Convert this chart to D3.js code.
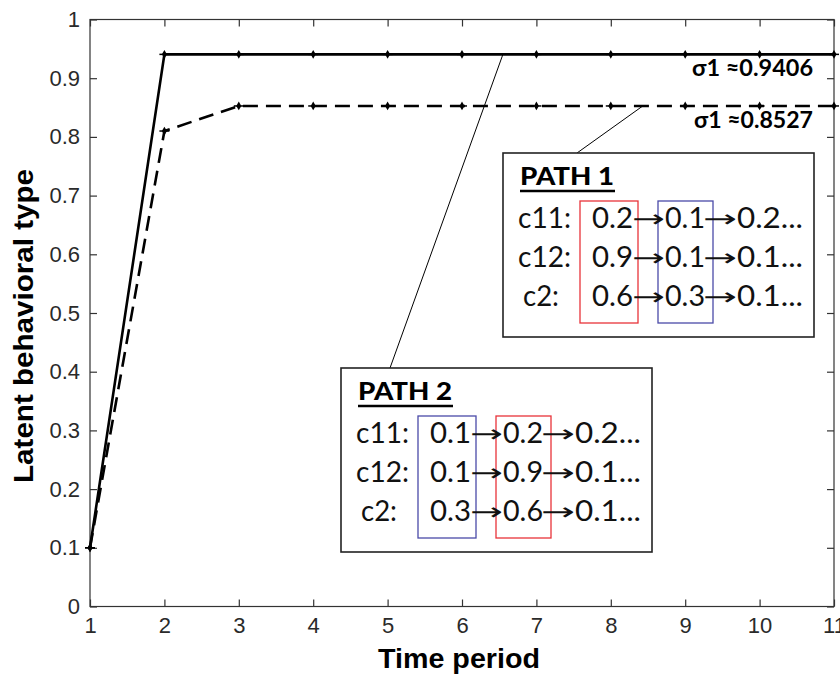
<!DOCTYPE html>
<html><head><meta charset="utf-8">
<script src="https://cdn.jsdelivr.net/npm/d3@7/dist/d3.min.js"></script>
<style>body{margin:0;background:#fff}svg{display:block}</style>
</head><body>
<svg id="c" width="840" height="674"></svg>
<script>
// ---- data ----
const periods = [1,2,3,4,5,6,7,8,9,10,11];
const path2Values = [0.1,0.9406,0.9406,0.9406,0.9406,0.9406,0.9406,0.9406,0.9406,0.9406,0.9406];
const path1Values = [0.1,0.81,0.8527,0.8527,0.8527,0.8527,0.8527,0.8527,0.8527,0.8527,0.8527];
const xTicks = [1,2,3,4,5,6,7,8,9,10,11];
const yTicks = [0,0.1,0.2,0.3,0.4,0.5,0.6,0.7,0.8,0.9,1];
const yTickLabels = ["0","0.1","0.2","0.3","0.4","0.5","0.6","0.7","0.8","0.9","1"];
const sigmaLabels = ["σ1 ≈0.9406","σ1 ≈0.8527"];
const path1Rows = [["c11:","0.2","0.1","0.2..."],["c12:","0.9","0.1","0.1..."],["c2:","0.6","0.3","0.1..."]];
const path2Rows = [["c11:","0.1","0.2","0.2..."],["c12:","0.1","0.9","0.1..."],["c2:","0.3","0.6","0.1..."]];

const svg = d3.select("#c");
const x = d3.scaleLinear().domain([1,11]).range([90,834]);
const y = d3.scaleLinear().domain([0,1]).range([606.5,19.5]);
const tickFont = "Liberation Sans, Arial, sans-serif";

// frame
svg.append("rect").attr("x",90).attr("y",19.5).attr("width",744).attr("height",587)
  .attr("fill","none").attr("stroke","#333").attr("stroke-width",1.2);

function styleAxis(g){
  g.select(".domain").remove();
  g.selectAll("line").attr("stroke","#333").attr("stroke-width",1.2);
  g.selectAll("text").attr("font-family",tickFont).attr("font-size",22).attr("fill","#2a2a2a");
}
svg.append("g").attr("transform","translate(0,606.5)")
  .call(d3.axisBottom(x).tickValues(xTicks).tickFormat(d3.format("d")).tickSizeInner(-7).tickSizeOuter(0).tickPadding(11))
  .call(styleAxis);
svg.append("g").attr("transform","translate(0,19.5)")
  .call(d3.axisTop(x).tickValues(xTicks).tickFormat("").tickSizeInner(-7).tickSizeOuter(0))
  .call(styleAxis);
svg.append("g").attr("transform","translate(90,0)")
  .call(d3.axisLeft(y).tickValues(yTicks).tickFormat((d,i)=>yTickLabels[i]).tickSizeInner(-7).tickSizeOuter(0).tickPadding(10))
  .call(styleAxis);
svg.append("g").attr("transform","translate(834,0)")
  .call(d3.axisRight(y).tickValues(yTicks).tickFormat("").tickSizeInner(-7).tickSizeOuter(0))
  .call(styleAxis);

// axis titles
svg.append("text").attr("x",459).attr("y",668).attr("text-anchor","middle")
  .attr("font-family",tickFont).attr("font-weight","bold").attr("font-size",27)
  .attr("textLength",162).attr("lengthAdjust","spacingAndGlyphs").text("Time period");
svg.append("text").attr("transform","translate(33,326) rotate(-90)").attr("text-anchor","middle")
  .attr("font-family",tickFont).attr("font-weight","bold").attr("font-size",27)
  .attr("textLength",314).attr("lengthAdjust","spacingAndGlyphs").text("Latent behavioral type");

// lines
const line = d3.line().x((d,i)=>x(periods[i])).y(d=>y(d));
svg.append("path").datum(path2Values).attr("d",line).attr("fill","none")
  .attr("stroke","#000").attr("stroke-width",2.6);
svg.append("path").datum(path1Values).attr("d",line).attr("fill","none")
  .attr("stroke","#000").attr("stroke-width",2.6).attr("stroke-dasharray","15,8");
const sym = d3.symbol().type(d3.symbolDiamond).size(22);
[path2Values,path1Values].forEach(vals=>{
  svg.append("g").selectAll("path").data(vals).join("path")
    .attr("transform",(d,i)=>`translate(${x(periods[i])},${y(d)})`).attr("d",sym).attr("fill","#000");
  svg.append("g").selectAll("line").data(vals).join("line")
    .attr("x1",(d,i)=>x(periods[i])-5).attr("x2",(d,i)=>x(periods[i])+5)
    .attr("y1",d=>y(d)).attr("y2",d=>y(d)).attr("stroke","#000").attr("stroke-width",1.5);
});

// sigma labels
const calib = "Lato, 'Open Sans', sans-serif";
svg.append("text").attr("x",692).attr("y",76).attr("font-family",calib).attr("font-weight","bold")
  .attr("font-size",22).attr("textLength",121).attr("lengthAdjust","spacingAndGlyphs").text(sigmaLabels[0]);
svg.append("text").attr("x",694).attr("y",128).attr("font-family",calib).attr("font-weight","bold")
  .attr("font-size",22).attr("textLength",119).attr("lengthAdjust","spacingAndGlyphs").text(sigmaLabels[1]);

// connector lines
svg.append("line").attr("x1",x(6.55)).attr("y1",y(path2Values[6])).attr("x2",390).attr("y2",368)
  .attr("stroke","#000").attr("stroke-width",1);
svg.append("line").attr("x1",x(8.43)).attr("y1",y(path1Values[8])).attr("x2",577).attr("y2",153)
  .attr("stroke","#000").attr("stroke-width",1);

// annotation boxes
function pathBox(bx,by,title,rows,firstColor,secondColor){
  const g = svg.append("g").attr("transform",`translate(${bx},${by})`);
  g.append("rect").attr("width",311).attr("height",184).attr("fill","#fff")
    .attr("stroke","#222").attr("stroke-width",1.6);
  g.append("text").attr("x",17).attr("y",32).attr("font-family",calib).attr("font-weight","900")
    .attr("font-size",24).attr("textLength",94).attr("lengthAdjust","spacingAndGlyphs").text(title);
  g.append("line").attr("x1",17).attr("x2",112).attr("y1",38).attr("y2",38).attr("stroke","#000").attr("stroke-width",2.4);
  g.append("rect").attr("x",77).attr("y",48).attr("width",58).attr("height",122)
    .attr("fill","none").attr("stroke",firstColor).attr("stroke-width",1.3);
  g.append("rect").attr("x",155).attr("y",48).attr("width",55).attr("height",122)
    .attr("fill","none").attr("stroke",secondColor).attr("stroke-width",1.3);
  rows.forEach((r,i)=>{
    const by2 = 75 + i*39;
    const t = (xx,s,w)=>g.append("text").attr("x",xx).attr("y",by2).attr("font-family",calib)
      .attr("font-size",28).attr("fill","#111").attr("textLength",w).attr("lengthAdjust","spacingAndGlyphs").text(s);
    t(i===2?20:15, r[0], i===2?36:53);
    t(89, r[1], 41);
    t(162, r[2], 40);
    t(234, r[3], 66);
    [[129,162],[200,234]].forEach(([a,b])=>{
      g.append("text").attr("x",a).attr("y",by2-1).attr("font-family","'DejaVu Sans', sans-serif")
        .attr("font-size",24).attr("textLength",b-a).attr("lengthAdjust","spacingAndGlyphs")
        .attr("fill","#111").text("→");
    });
  });
}
pathBox(503,153,"PATH 1",path1Rows,"#e8333a","#4a4aa8");
pathBox(341,368,"PATH 2",path2Rows,"#4a4aa8","#e8333a");
</script>
</body></html>
